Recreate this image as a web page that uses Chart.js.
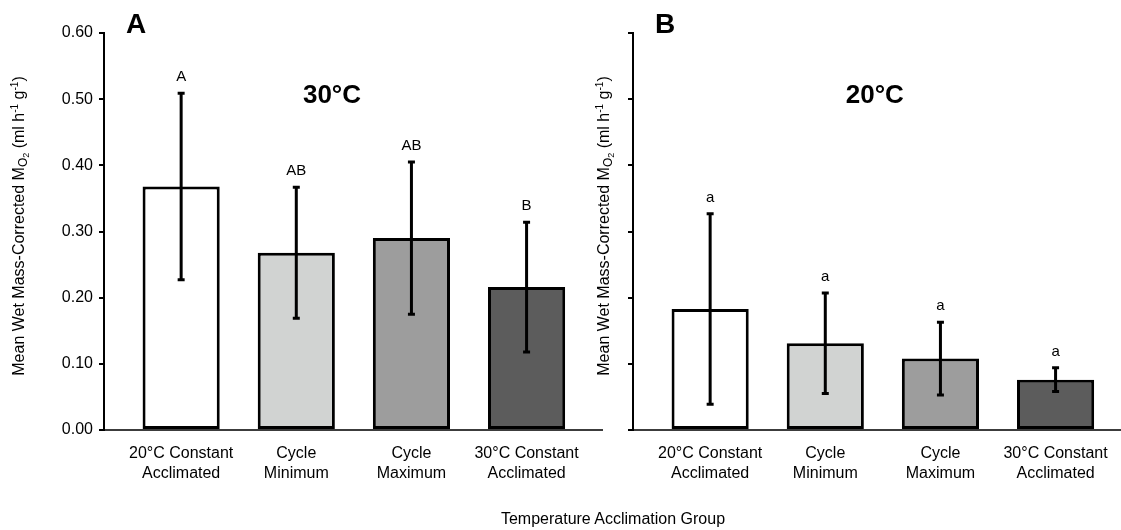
<!DOCTYPE html>
<html>
<head>
<meta charset="utf-8">
<script src="https://cdn.jsdelivr.net/npm/chart.js@4.4.1/dist/chart.umd.min.js"></script>
<style>
  html, body { margin: 0; padding: 0; background: #fff; overflow: hidden; }
  #wrap { position: relative; width: 1121px; height: 530px; overflow: hidden; }
  #cA { position: absolute; left: 0; top: 0; }
  #cB { position: absolute; left: 560px; top: 0; }
  #xTitle { position: absolute; left: 413px; width: 400px; top: 510px; text-align: center;
    font: 16px 'Liberation Sans', Arial, sans-serif; color: #000; line-height: 18px; }
</style>
</head>
<body>
<div id="wrap">
  <canvas id="cA" width="620" height="530"></canvas>
  <canvas id="cB" width="580" height="530"></canvas>
  <div id="xTitle">Temperature Acclimation Group</div>
</div>
<script>
// groups on the x axis
const groups = [['20°C Constant', 'Acclimated'], ['Cycle', 'Minimum'], ['Cycle', 'Maximum'], ['30°C Constant', 'Acclimated']]
const yTicks = [0, 0.1, 0.2, 0.3, 0.4, 0.5, 0.6]

// 30°C test temperature (panel A)
const mean30 = [0.368, 0.268, 0.290, 0.216]
const sd30 = [0.141, 0.099, 0.115, 0.098]
const sig30 = ['A', 'AB', 'AB', 'B']

// 20°C test temperature (panel B)
const mean20 = [0.183, 0.131, 0.108, 0.076]
const sd20 = [0.144, 0.076, 0.055, 0.018]
const sig20 = ['a', 'a', 'a', 'a']

const fills = ['#ffffff', '#d1d3d2', '#9d9d9d', '#5c5c5c']
const FONT = "'Liberation Sans', Arial, sans-serif"

function drawYTitle(ctx, x, cy) {
  const parts = [
    { t: 'Mean Wet Mass-Corrected M', s: 16, dy: 0 },
    { t: 'O', s: 12, dy: 3 },
    { t: '2', s: 9, dy: 5 },
    { t: ' (ml h', s: 16, dy: 0 },
    { t: '-1', s: 10, dy: -6 },
    { t: ' g', s: 16, dy: 0 },
    { t: '-1', s: 10, dy: -6 },
    { t: ')', s: 16, dy: 0 }
  ]
  let total = 0
  parts.forEach(p => { ctx.font = p.s + 'px ' + FONT; p.w = ctx.measureText(p.t).width; total += p.w })
  ctx.save()
  ctx.translate(x, cy)
  ctx.rotate(-Math.PI / 2)
  ctx.fillStyle = '#000'
  ctx.textAlign = 'left'
  ctx.textBaseline = 'alphabetic'
  let u = -total / 2
  parts.forEach(p => {
    ctx.font = p.s + 'px ' + FONT
    ctx.fillText(p.t, u, 6 + p.dy)
    u += p.w
  })
  ctx.restore()
}

const errorBars = {
  id: 'errorBars',
  afterDatasetsDraw(chart, args, o) {
    const { ctx, chartArea } = chart
    const x = chart.scales.x, y = chart.scales.y
    ctx.save()
    ctx.strokeStyle = '#000'
    ctx.lineWidth = 3
    o.mean.forEach((m, i) => {
      const px = x.getPixelForValue(i)
      const top = y.getPixelForValue(m + o.sd[i])
      const bot = y.getPixelForValue(m - o.sd[i])
      ctx.beginPath()
      ctx.moveTo(px, top); ctx.lineTo(px, bot)
      ctx.moveTo(px - 3.5, top); ctx.lineTo(px + 3.5, top)
      ctx.moveTo(px - 3.5, bot); ctx.lineTo(px + 3.5, bot)
      ctx.stroke()
      ctx.fillStyle = '#000'
      ctx.font = '15px ' + FONT
      ctx.textAlign = 'center'
      ctx.textBaseline = 'alphabetic'
      ctx.fillText(o.sig[i], px, top - 12)
    })
    // panel letter
    ctx.font = 'bold 28px ' + FONT
    ctx.textAlign = 'left'
    ctx.fillText(o.panel, chartArea.left + 22, 33)
    // test temperature
    ctx.font = 'bold 26px ' + FONT
    ctx.textAlign = 'center'
    ctx.fillText(o.temp, x.getPixelForValue(o.tempAt), 103)
    drawYTitle(ctx, o.titleX, 226)
    ctx.restore()
  }
}

function makeChart(id, mean, sd, sig, panel, temp, tempAt, axisW, titleX, showTickLabels, padRight) {
  return new Chart(document.getElementById(id), {
    type: 'bar',
    data: {
      datasets: [{
        data: mean.map((v, i) => ({ x: i, y: v })),
        backgroundColor: fills,
        borderColor: '#000',
        borderWidth: 3,
        borderSkipped: false,
        barPercentage: 0.67,
        categoryPercentage: 1
      }]
    },
    options: {
      responsive: false,
      animation: false,
      layout: { padding: { left: 0, top: 33, right: padRight, bottom: 0 } },
      plugins: {
        legend: { display: false },
        tooltip: { enabled: false },
        errorBars: { mean, sd, sig, panel, temp, tempAt, titleX }
      },
      scales: {
        x: {
          type: 'linear',
          offset: false,
          min: -0.67,
          max: 3.655,
          afterBuildTicks: s => { s.ticks = groups.map((g, i) => ({ value: i })) },
          afterFit: s => { s.height = 100 },
          grid: { display: false, drawTicks: false, offset: false },
          border: { display: true, color: '#3c3c3c', width: 2 },
          ticks: {
            autoSkip: false, maxRotation: 0, padding: 14, color: '#000',
            font: { family: FONT, size: 16, lineHeight: 1.25 },
            callback: v => groups[v]
          }
        },
        y: {
          min: 0,
          max: 0.6,
          afterBuildTicks: s => { s.ticks = yTicks.map(v => ({ value: v })) },
          afterFit: s => { s.width = axisW },
          grid: { display: true, drawOnChartArea: false, drawTicks: true, tickLength: 5, color: '#000', lineWidth: 2 },
          border: { display: true, color: '#000', width: 2 },
          ticks: {
            padding: 6, color: '#000',
            font: { family: FONT, size: 16 },
            callback: v => showTickLabels ? v.toFixed(2) : ''
          }
        }
      }
    },
    plugins: [errorBars]
  })
}

makeChart('cA', mean30, sd30, sig30, 'A', '30°C', 1.31, 104, 18, true, 18)
makeChart('cB', mean20, sd20, sig20, 'B', '20°C', 1.43, 73, 43, false, 9)
</script>
</body>
</html>
